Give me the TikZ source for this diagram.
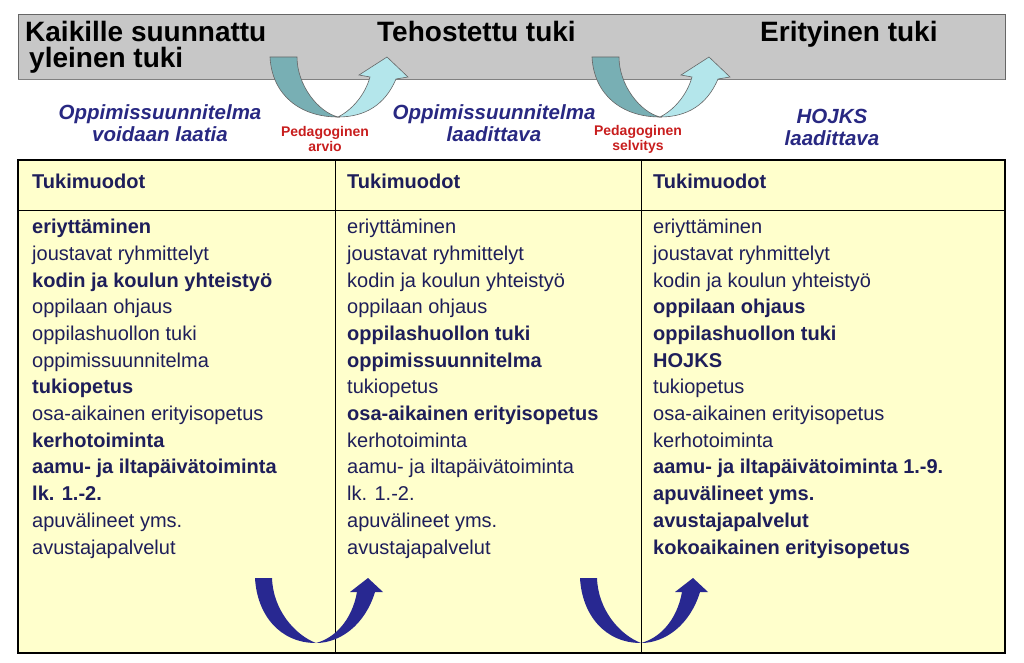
\documentclass[tikz,border=0pt]{standalone}
\usepackage{fontspec}
\setmainfont{Liberation Sans}
\usetikzlibrary{positioning}
\definecolor{navy}{RGB}{30,30,90}
\definecolor{lblue}{RGB}{40,40,130}
\definecolor{lred}{RGB}{200,30,30}
\definecolor{tablefill}{RGB}{255,255,204}
\definecolor{tealdark}{RGB}{120,175,180}
\definecolor{teallight}{RGB}{180,230,235}
\definecolor{arrowblue}{RGB}{40,40,145}
\tikzset{
  head/.style={font=\bfseries\fontsize{28}{30}\selectfont, anchor=base west, inner sep=0},
  plan/.style={font=\bfseries\itshape\fontsize{20.5}{22}\selectfont, text=lblue, align=center, inner sep=0},
  assess/.style={font=\bfseries\fontsize{14}{15}\selectfont, text=lred, align=center, inner sep=0},
  items/.style={font=\fontsize{20}{26.7}\selectfont, text=navy, align=left, anchor=north west, inner sep=0},
  tealarrow/.style={draw=black!60, line width=0.6pt},
}
\begin{document}
\begin{tikzpicture}[x=1pt, y=-1pt]
\useasboundingbox (0,0) rectangle (1024,663);

% header band
\fill[black!22] (18,14) rectangle (1005,80);
\draw[black!60] (18,80) -- (18,14) -- (1005,14) -- (1005,80);
\draw[black!50, line width=1pt] (18,80) -- (1005,80);
\node[head] (kaikille) at (25,42) {Kaikille suunnattu};
\node[head] (yleinen) at (29,68) {yleinen tuki};
\node[head] (tehostettu) at (377,42) {Tehostettu tuki};
\node[head] (erityinen) at (760,42) {Erityinen tuki};

% plans and assessments
\node[plan] (planA) at (160,123) {Oppimissuunnitelma\\voidaan laatia};
\node[plan] (planB) at (494,123) {Oppimissuunnitelma\\laadittava};
\node[plan] (planC) at (832,127) {HOJKS\\laadittava};
\node[assess] (arvio) at (325,139) {Pedagoginen\\arvio};
\node[assess] (selvitys) at (638,139) {Pedagoginen\\selvitys};

% curved arrows in the header
\foreach \dx in {0, 322} {
  \begin{scope}[xshift=\dx]
    \filldraw[tealarrow, fill=tealdark] (270,57) .. controls (272,95) and (300,117) .. (338,117)
      .. controls (318,112) and (297,85) .. (297,57) -- cycle;
    \filldraw[tealarrow, fill=teallight] (338,117) .. controls (352,110) and (365,95) .. (370,77)
      -- (359,75) -- (387,57) -- (408,77) -- (396,79)
      .. controls (385,105) and (365,117) .. (338,117) -- cycle;
  \end{scope}
}

% table
\fill[tablefill] (18,160) rectangle (1005,653);
\draw[line width=1.6pt] (18,160) rectangle (1005,653);
\draw[line width=1pt] (18,210) -- (1005,210);
\draw[line width=1pt] (335,160) -- (335,653);
\draw[line width=1pt] (641,160) -- (641,653);

\foreach \x/\name in {32/tukiA, 347/tukiB, 653/tukiC}
  \node[font=\bfseries\fontsize{20}{22}\selectfont, text=navy, anchor=base west, inner sep=0] (\name) at (\x,188) {Tukimuodot};

\node[items] (listA) at (32,219) {\textbf{eriyttäminen}\\joustavat ryhmittelyt\\\textbf{kodin ja koulun yhteistyö}\\oppilaan ohjaus\\oppilashuollon tuki\\oppimissuunnitelma\\\textbf{tukiopetus}\\osa-aikainen erityisopetus\\\textbf{kerhotoiminta}\\\textbf{aamu- ja iltapäivätoiminta}\\\textbf{lk. 1.-2.}\\apuvälineet yms.\\avustajapalvelut};
\node[items] (listB) at (347,219) {eriyttäminen\\joustavat ryhmittelyt\\kodin ja koulun yhteistyö\\oppilaan ohjaus\\\textbf{oppilashuollon tuki}\\\textbf{oppimissuunnitelma}\\tukiopetus\\\textbf{osa-aikainen erityisopetus}\\kerhotoiminta\\aamu- ja iltapäivätoiminta\\lk. 1.-2.\\apuvälineet yms.\\avustajapalvelut};
\node[items] (listC) at (653,219) {eriyttäminen\\joustavat ryhmittelyt\\kodin ja koulun yhteistyö\\\textbf{oppilaan ohjaus}\\\textbf{oppilashuollon tuki}\\\textbf{HOJKS}\\tukiopetus\\osa-aikainen erityisopetus\\kerhotoiminta\\\textbf{aamu- ja iltapäivätoiminta 1.-9.}\\\textbf{apuvälineet yms.}\\\textbf{avustajapalvelut}\\\textbf{kokoaikainen erityisopetus}};

% curved arrows in the table
\foreach \dx in {0, 325} {
  \begin{scope}[xshift=\dx]
    \fill[arrowblue] (255,578) .. controls (257,615) and (280,643) .. (316,643)
      .. controls (295,635) and (273,610) .. (272,578) -- cycle;
    \fill[arrowblue] (316,643) .. controls (335,638) and (352,620) .. (357,592)
      -- (350,592) -- (368,578) -- (383,592) -- (375,592)
      .. controls (365,625) and (340,643) .. (316,643) -- cycle;
  \end{scope}
}
\end{tikzpicture}
\end{document}
